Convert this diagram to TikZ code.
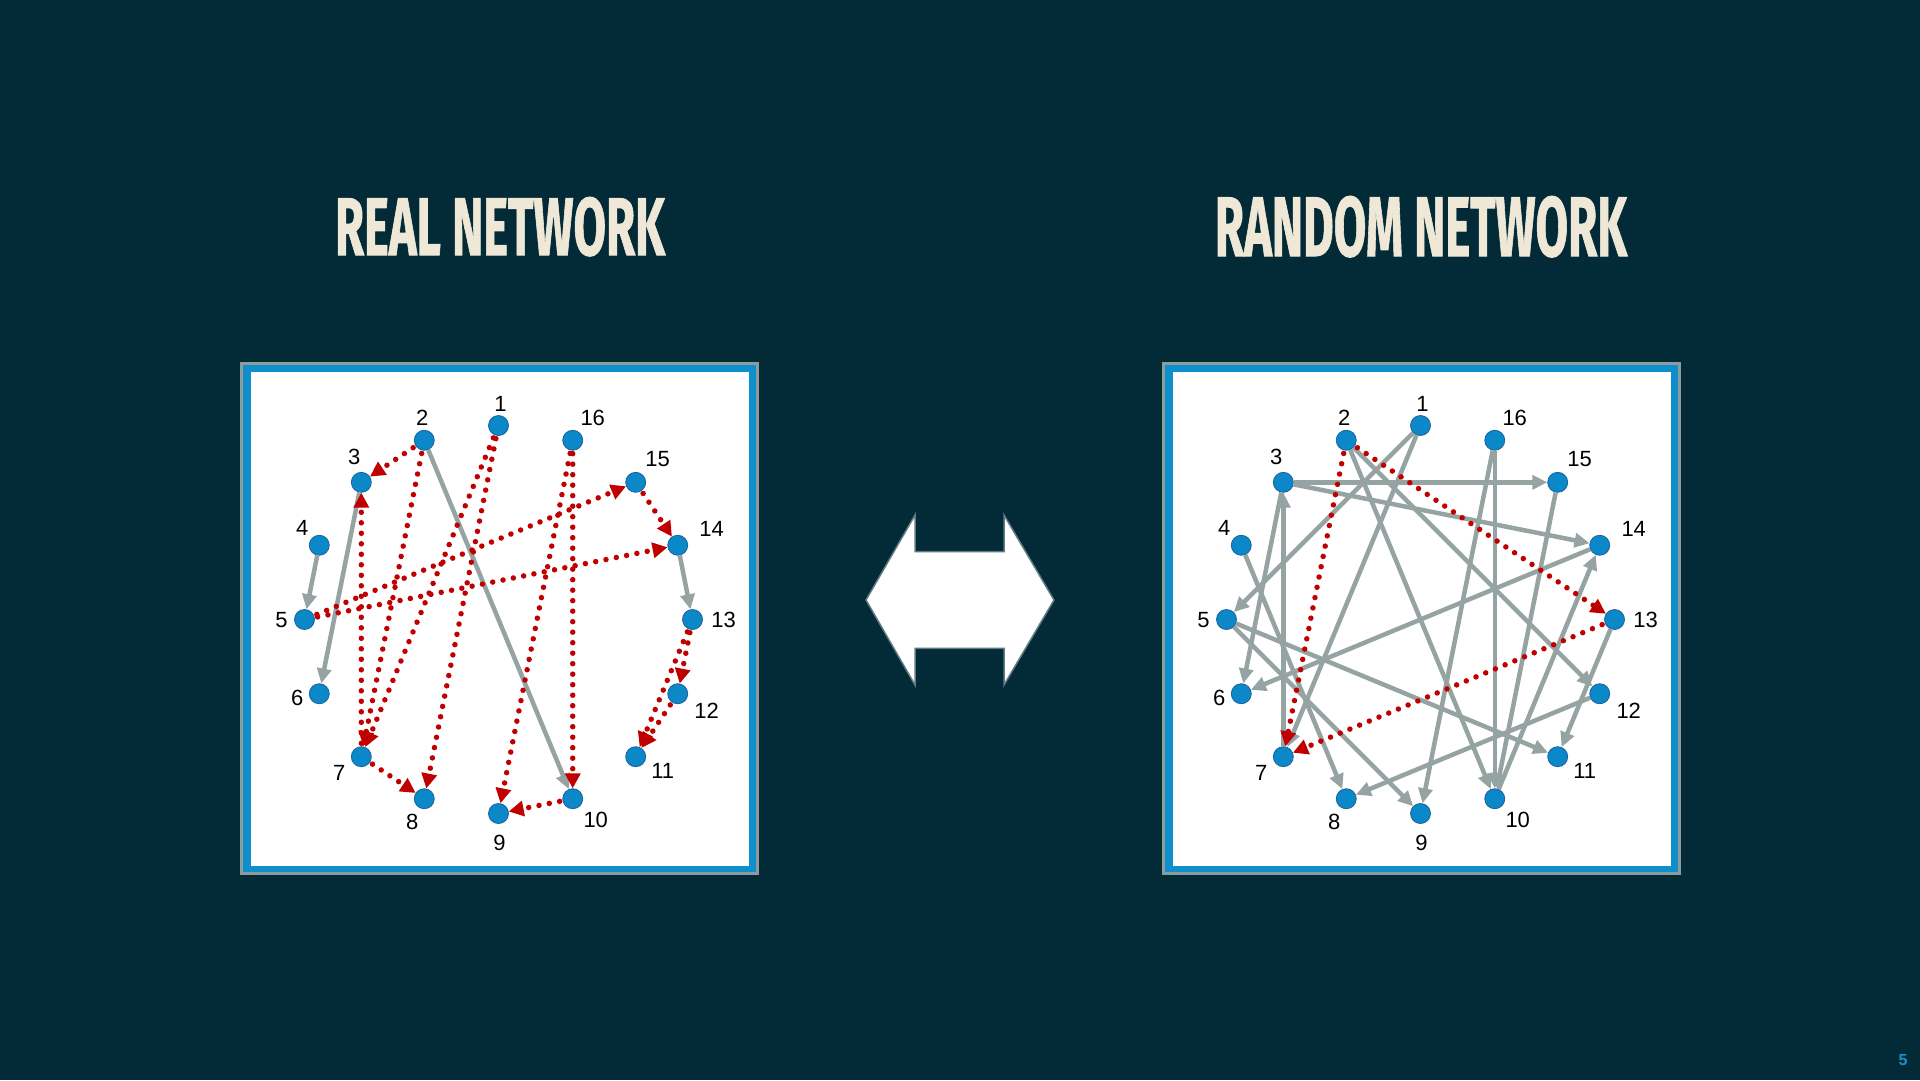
\documentclass[tikz,border=0pt]{standalone}
\usepackage{fontspec}
\setmainfont{Liberation Sans}
\newfontfamily\titlefont{Fira Sans}[BoldFeatures={FakeBold=1.2}]
\usetikzlibrary{arrows.meta}
\definecolor{bg}{HTML}{022A37}
\definecolor{titlecol}{HTML}{EFE8D6}
\definecolor{framegray}{HTML}{8C9B9B}
\definecolor{frameblue}{HTML}{0E8FCB}
\definecolor{nodeblue}{HTML}{0A88C8}
\definecolor{nodeedge}{HTML}{1F609C}
\definecolor{edgegray}{HTML}{95A3A2}
\definecolor{dotred}{HTML}{C00000}
\definecolor{arrowedge}{HTML}{5F7A80}
\definecolor{pagenum}{HTML}{1A8FD0}
\begin{document}
\begin{tikzpicture}[x=1pt,y=-1pt,
  vtx/.style={circle, fill=nodeblue, draw=nodeedge, line width=0.8pt, minimum size=20pt, inner sep=0pt},
  lbl/.style={inner sep=0pt, font=\fontsize{22}{22}\selectfont, text=black},
  grayedge/.style={draw=edgegray, line width=4.5pt, -{Triangle[length=15pt,width=14pt]}},
  rededge/.style={draw=dotred, line width=5.5pt, line cap=round, dash pattern=on 0pt off 10.5pt, shorten <=3pt, -{Triangle[length=15pt,width=15pt]}},
  ttl/.style={inner sep=0pt, anchor=base, text=titlecol}
]
\useasboundingbox (0,0) rectangle (1920,1080);
\fill[bg] (0,0) rectangle (1920,1080);

% titles
\node[ttl] (t1) at (500,255) {\resizebox{330pt}{58pt}{\titlefont\bfseries REAL NETWORK}};
\node[ttl] (t2) at (1421,256) {\resizebox{412pt}{60pt}{\titlefont\bfseries RANDOM NETWORK}};

% frames
\foreach \ox in {0,922}{
  \fill[framegray] (240+\ox,362) rectangle (759+\ox,875);
  \fill[frameblue] (243+\ox,365) rectangle (756+\ox,872);
  \fill[white] (251+\ox,372) rectangle (749+\ox,866);
}

% double arrow
\draw[fill=white, draw=arrowedge, line width=1.5pt, line join=miter]
  (866,600) -- (915,515) -- (915,551.7) -- (1004,551.7) -- (1004,515) -- (1054,600)
  -- (1004,685) -- (1004,648.3) -- (915,648.3) -- (915,685) -- cycle;

% vertices
\foreach \k in {1,...,16}{
  \pgfmathsetmacro\ang{90+(\k-1)*22.5}
  \node[vtx] (L\k) at ({498.5+194*cos(\ang)},{619.5-194*sin(\ang)}) {};
  \node[vtx] (R\k) at ({1420.5+194*cos(\ang)},{619.5-194*sin(\ang)}) {};
}

% labels
\foreach \k/\dx/\dy in {1/2/-22, 2/-2/-22, 3/-7/-25, 4/-17/-17, 5/-23/1, 6/-22/4, 7/-22/16, 8/-12/23,
  9/1/29, 10/23/21, 11/27/14, 12/29/17, 13/31/0, 14/34/-16, 15/22/-23, 16/20/-22}{
  \node[lbl] (lL\k) at ([shift={(\dx,\dy)}]L\k) {\k};
  \node[lbl] (lR\k) at ([shift={(\dx,\dy)}]R\k) {\k};
}

% real network edges
\foreach \a/\b in {2/10, 3/6, 4/5, 14/13}{
  \draw[grayedge] (L\a) -- (L\b);
}
\foreach \a/\b in {2/3, 2/7, 1/7, 1/8, 16/9, 16/10, 10/9, 7/3, 7/8, 5/15, 5/14, 15/14, 13/12, 13/11, 12/11}{
  \draw[rededge] (L\a) -- (L\b);
}

% random network edges
\foreach \a/\b in {3/15, 3/14, 1/5, 1/7, 2/10, 2/12, 3/6, 7/3, 4/8, 5/9, 5/11, 14/6, 12/8, 13/11, 16/9, 16/10, 15/10, 10/14}{
  \draw[grayedge] (R\a) -- (R\b);
}
\foreach \a/\b in {2/13, 2/7, 13/7}{
  \draw[rededge] (R\a) -- (R\b);
}

% page number
\node[inner sep=0pt, text=pagenum, font=\fontsize{16}{16}\selectfont\bfseries] (pg) at (1903,1060) {5};
\end{tikzpicture}
\end{document}
